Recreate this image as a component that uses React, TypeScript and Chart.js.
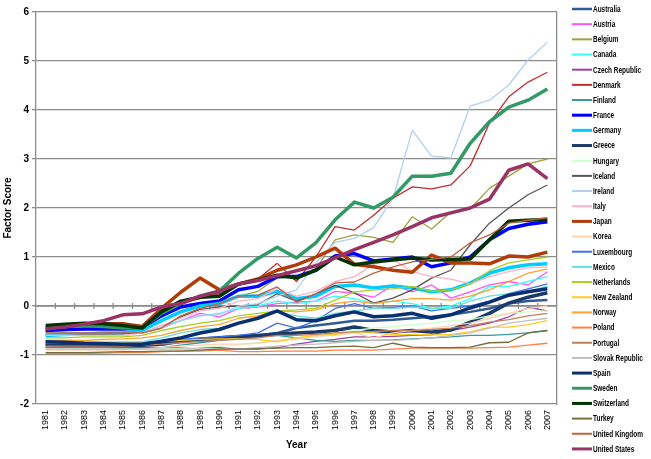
import React, { useEffect, useRef } from "react";
import { Chart, registerables } from "chart.js";
Chart.register(...registerables);

const categories = ["1981","1982","1983","1984","1985","1986","1987","1988","1989","1990","1991","1992","1993","1994","1995","1996","1997","1998","1999","2000","2001","2002","2003","2004","2005","2006","2007"];
const yTickValues = [-2, -1, 0, 1, 2, 3, 4, 5, 6];

const australia = [-0.80,-0.80,-0.80,-0.80,-0.80,-0.78,-0.75,-0.72,-0.70,-0.68,-0.65,-0.60,-0.55,-0.45,-0.40,-0.35,-0.30,-0.30,-0.28,-0.25,-0.22,-0.18,-0.12,-0.05,0.05,0.10,0.12];
const austria = [-0.55,-0.55,-0.55,-0.55,-0.55,-0.55,-0.45,-0.30,-0.15,-0.22,-0.05,-0.02,0.05,0.08,0.10,0.30,0.26,0.18,0.43,0.29,0.43,0.16,0.29,0.43,0.50,0.43,0.70];
const belgium = [-0.60,-0.58,-0.56,-0.55,-0.55,-0.50,-0.30,-0.10,0.00,0.05,0.20,0.30,0.57,0.59,0.75,1.35,1.45,1.40,1.30,1.82,1.57,1.92,1.98,2.40,2.65,2.90,3.00];
const canada = [-0.55,-0.55,-0.55,-0.56,-0.57,-0.55,-0.40,-0.30,-0.20,-0.15,-0.05,0.00,0.10,0.05,0.10,0.20,0.15,0.05,0.10,0.05,-0.05,0.00,0.15,0.40,0.40,0.50,0.60];
const czechRepublic = [-0.85,-0.85,-0.85,-0.85,-0.85,-0.85,-0.85,-0.85,-0.85,-0.85,-0.88,-0.88,-0.85,-0.78,-0.72,-0.68,-0.63,-0.63,-0.62,-0.60,-0.59,-0.50,-0.43,-0.35,-0.22,-0.03,-0.10];
const denmark = [-0.50,-0.50,-0.48,-0.45,-0.45,-0.42,-0.20,0.05,0.15,0.25,0.45,0.55,0.87,0.50,1.00,1.62,1.55,1.85,2.20,2.43,2.39,2.47,2.86,3.73,4.27,4.57,4.77];
const finland = [-0.85,-0.85,-0.85,-0.85,-0.87,-0.87,-0.85,-0.80,-0.75,-0.70,-0.65,-0.63,-0.60,-0.65,-0.70,-0.72,-0.70,-0.70,-0.69,-0.67,-0.65,-0.63,-0.60,-0.60,-0.58,-0.55,-0.50];
const france = [-0.50,-0.48,-0.47,-0.47,-0.47,-0.45,-0.20,-0.02,0.05,0.10,0.33,0.40,0.60,0.60,0.73,1.02,1.07,0.92,0.96,1.00,0.80,0.88,1.00,1.35,1.58,1.67,1.72];
const germany = [-0.60,-0.58,-0.57,-0.55,-0.55,-0.50,-0.30,-0.12,0.00,0.05,0.20,0.20,0.30,0.15,0.20,0.40,0.43,0.37,0.41,0.37,0.29,0.33,0.47,0.67,0.78,0.84,0.86];
const greece = [-0.78,-0.80,-0.80,-0.80,-0.80,-0.80,-0.78,-0.72,-0.68,-0.65,-0.62,-0.60,-0.57,-0.55,-0.53,-0.50,-0.43,-0.50,-0.53,-0.50,-0.53,-0.49,-0.33,-0.15,0.06,0.18,0.27];
const hungary = [-0.88,-0.88,-0.88,-0.88,-0.88,-0.88,-0.88,-0.86,-0.84,-0.82,-0.80,-0.75,-0.70,-0.65,-0.60,-0.55,-0.50,-0.45,-0.42,-0.38,-0.35,-0.30,-0.28,-0.20,-0.15,-0.12,-0.10];
const iceland = [-0.60,-0.60,-0.58,-0.58,-0.57,-0.55,-0.45,-0.22,-0.07,-0.02,0.00,0.03,0.25,0.10,0.25,0.42,0.27,0.06,0.16,0.33,0.57,0.73,1.25,1.69,2.00,2.27,2.47];
const ireland = [-0.60,-0.60,-0.60,-0.60,-0.60,-0.55,-0.45,-0.30,-0.20,-0.17,0.00,0.05,0.20,0.33,0.88,1.30,1.38,1.60,2.20,3.59,3.06,3.02,4.08,4.20,4.51,5.02,5.38];
const italy = [-0.60,-0.60,-0.60,-0.60,-0.60,-0.55,-0.40,-0.25,-0.10,-0.05,0.10,0.15,0.35,0.20,0.30,0.50,0.60,0.85,0.95,0.70,0.60,0.55,0.45,0.60,0.70,0.78,0.80];
const japan = [-0.45,-0.42,-0.38,-0.36,-0.36,-0.42,-0.05,0.28,0.57,0.33,0.45,0.55,0.73,0.84,1.00,1.18,0.85,0.80,0.73,0.69,1.04,0.88,0.88,0.86,1.02,1.00,1.10];
const korea = [-0.90,-0.90,-0.90,-0.90,-0.90,-0.88,-0.85,-0.82,-0.80,-0.78,-0.78,-0.76,-0.70,-0.68,-0.62,-0.60,-0.55,-0.65,-0.55,-0.50,-0.45,-0.40,-0.35,-0.25,-0.15,-0.05,0.00];
const luxembourg = [-0.75,-0.75,-0.75,-0.76,-0.76,-0.75,-0.72,-0.68,-0.65,-0.63,-0.60,-0.55,-0.35,-0.45,-0.30,-0.05,0.05,-0.05,-0.03,0.00,-0.10,-0.05,0.00,0.10,0.25,0.35,0.45];
const mexico = [-0.75,-0.75,-0.75,-0.75,-0.75,-0.73,-0.65,-0.55,-0.48,-0.45,-0.35,-0.25,-0.12,-0.20,-0.25,-0.15,-0.10,-0.05,-0.05,-0.02,-0.05,-0.05,0.10,0.20,0.25,0.30,0.40];
const netherlands = [-0.65,-0.65,-0.63,-0.63,-0.63,-0.60,-0.50,-0.42,-0.35,-0.30,-0.20,-0.15,-0.10,-0.08,-0.05,0.12,0.29,0.33,0.35,0.40,0.30,0.33,0.45,0.72,0.88,0.94,1.00];
const newZealand = [-0.70,-0.70,-0.72,-0.72,-0.73,-0.73,-0.72,-0.70,-0.68,-0.67,-0.67,-0.68,-0.73,-0.65,-0.60,-0.58,-0.53,-0.55,-0.59,-0.58,-0.59,-0.58,-0.53,-0.43,-0.43,-0.38,-0.30];
const norway = [-0.70,-0.70,-0.70,-0.68,-0.67,-0.65,-0.60,-0.50,-0.42,-0.38,-0.25,-0.20,-0.10,-0.12,-0.08,0.05,0.10,0.05,0.10,0.15,0.15,0.12,0.20,0.33,0.50,0.67,0.76];
const poland = [-0.97,-0.97,-0.97,-0.96,-0.95,-0.95,-0.93,-0.92,-0.92,-0.90,-0.93,-0.93,-0.92,-0.92,-0.92,-0.90,-0.90,-0.90,-0.88,-0.86,-0.86,-0.86,-0.86,-0.85,-0.84,-0.80,-0.76];
const portugal = [-0.82,-0.82,-0.82,-0.82,-0.82,-0.80,-0.78,-0.75,-0.72,-0.70,-0.68,-0.65,-0.60,-0.60,-0.58,-0.55,-0.53,-0.52,-0.50,-0.50,-0.48,-0.45,-0.40,-0.33,-0.28,-0.20,-0.15];
const slovakRepublic = [-0.88,-0.88,-0.88,-0.88,-0.88,-0.88,-0.88,-0.88,-0.88,-0.88,-0.88,-0.85,-0.82,-0.80,-0.78,-0.75,-0.72,-0.70,-0.70,-0.68,-0.65,-0.60,-0.55,-0.45,-0.35,-0.30,-0.25];
const spain = [-0.73,-0.74,-0.76,-0.77,-0.78,-0.78,-0.72,-0.65,-0.55,-0.48,-0.35,-0.25,-0.10,-0.28,-0.30,-0.20,-0.12,-0.22,-0.20,-0.15,-0.25,-0.18,-0.04,0.08,0.22,0.29,0.35];
const sweden = [-0.45,-0.42,-0.40,-0.42,-0.45,-0.45,-0.15,0.05,0.20,0.30,0.67,0.97,1.20,0.98,1.29,1.76,2.12,2.00,2.22,2.65,2.65,2.71,3.32,3.76,4.06,4.20,4.43];
const switzerland = [-0.40,-0.37,-0.35,-0.36,-0.40,-0.45,-0.12,0.10,0.18,0.20,0.45,0.53,0.63,0.57,0.73,1.00,0.84,0.90,0.94,0.98,0.94,0.95,0.96,1.35,1.73,1.75,1.77];
const turkey = [-0.95,-0.95,-0.95,-0.94,-0.93,-0.93,-0.92,-0.92,-0.90,-0.88,-0.88,-0.87,-0.86,-0.85,-0.85,-0.83,-0.82,-0.85,-0.76,-0.84,-0.85,-0.85,-0.84,-0.75,-0.74,-0.55,-0.50];
const unitedKingdom = [-0.55,-0.55,-0.55,-0.55,-0.55,-0.55,-0.45,-0.20,-0.05,0.05,0.20,0.22,0.39,0.08,0.25,0.47,0.49,0.67,0.80,0.90,0.95,1.00,1.29,1.45,1.69,1.75,1.80];
const unitedStates = [-0.47,-0.43,-0.37,-0.30,-0.18,-0.16,-0.02,0.05,0.20,0.30,0.45,0.52,0.62,0.72,0.82,0.98,1.15,1.30,1.45,1.62,1.80,1.90,2.00,2.18,2.77,2.90,2.60];

const seriesNames = ["Australia","Austria","Belgium","Canada","Czech Republic","Denmark","Finland","France","Germany","Greece","Hungary","Iceland","Ireland","Italy","Japan","Korea","Luxembourg","Mexico","Netherlands","New Zealand","Norway","Poland","Portugal","Slovak Republic","Spain","Sweden","Switzerland","Turkey","United Kingdom","United States"];
const seriesValues = [australia, austria, belgium, canada, czechRepublic, denmark, finland, france, germany, greece, hungary, iceland, ireland, italy, japan, korea, luxembourg, mexico, netherlands, newZealand, norway, poland, portugal, slovakRepublic, spain, sweden, switzerland, turkey, unitedKingdom, unitedStates];

const seriesColors = ["#2f5a96","#ff55ff","#a0a040","#33ffff","#a040a0","#c03030","#3a9a9a","#0000ff","#00ccff","#1a3a6a","#ccffcc","#555555","#b0d0f0","#ffb0c8","#b03c08","#ffd0b0","#4070f0","#66dddd","#a8d020","#ffcc22","#ffa030","#ff8040","#c08060","#c0c0c0","#0a3070","#339966","#003300","#707040","#c06040","#993366"];
const seriesWidths = [2.5,1.3,1.3,1.3,1.3,1.3,1.3,3.5,3.5,3.5,1.3,1.3,1.3,1.3,3.5,1.3,1.3,1.3,1.3,1.3,1.3,1.3,1.3,1.3,3.5,3.5,3.5,1.3,1.3,3.5];

const FONT = "Arial, 'Liberation Sans', sans-serif";
const GRID = "#8c8c8c";
const LEGEND_GAP = 15;
const LEGEND_TOP = 9;
const LEGEND_STEP = 15.17;
const LEGEND_LINE = 20;

const zeroAxisPlugin = {
  id: "zeroAxis",
  beforeDatasetsDraw(chart: any) {
    const { ctx, chartArea, scales } = chart;
    const x = scales.x;
    const y = scales.y;
    const y0 = y.getPixelForValue(0);
    const step = x.getPixelForValue(1) - x.getPixelForValue(0);
    ctx.save();
    ctx.strokeStyle = GRID;
    ctx.lineWidth = 1.3;
    ctx.beginPath();
    ctx.moveTo(chartArea.left, y0);
    ctx.lineTo(chartArea.right, y0);
    for (let i = 1; i < categories.length; i++) {
      const px = x.getPixelForValue(i) - step / 2;
      ctx.moveTo(px, y0 - 3);
      ctx.lineTo(px, y0 + 3);
    }
    ctx.stroke();
    ctx.restore();
  },
};

const sideLegendPlugin = {
  id: "sideLegend",
  afterDraw(chart: any) {
    const { ctx, chartArea } = chart;
    const x0 = chartArea.right + LEGEND_GAP;
    ctx.save();
    chart.data.datasets.forEach((ds: any, i: number) => {
      const yy = LEGEND_TOP + i * LEGEND_STEP;
      ctx.strokeStyle = ds.borderColor;
      ctx.lineWidth = Math.min(3, Math.max(2, ds.borderWidth));
      ctx.lineCap = "butt";
      ctx.beginPath();
      ctx.moveTo(x0, yy);
      ctx.lineTo(x0 + LEGEND_LINE, yy);
      ctx.stroke();
      ctx.save();
      ctx.translate(x0 + LEGEND_LINE + 1, yy + 0.5);
      ctx.scale(0.76, 1);
      ctx.font = `bold 8.5px ${FONT}`;
      ctx.fillStyle = "#000";
      ctx.textBaseline = "middle";
      ctx.textAlign = "left";
      ctx.fillText(ds.label, 0, 0);
      ctx.restore();
    });
    ctx.restore();
  },
};

export default function App() {
  const ref = useRef<HTMLCanvasElement>(null);
  useEffect(() => {
    const chart = new Chart(ref.current as HTMLCanvasElement, {
      type: "line",
      data: {
        labels: categories,
        datasets: seriesNames.map((name, i) => ({
          label: name,
          data: seriesValues[i],
          borderColor: seriesColors[i],
          backgroundColor: seriesColors[i],
          borderWidth: seriesWidths[i],
          pointRadius: 0,
          tension: 0,
          fill: false,
          yAxisID: "y",
          order: seriesNames.length - 1 - i,
          borderJoinStyle: "round" as const,
        })),
      },
      options: {
        animation: false,
        responsive: true,
        maintainAspectRatio: false,
        layout: { padding: 0 },
        plugins: {
          tooltip: { enabled: false },
          legend: { display: false },
        },
        scales: {
          x: {
            type: "category",
            offset: true,
            grid: { display: false, drawTicks: false },
            border: { display: false },
            ticks: {
              minRotation: 90,
              maxRotation: 90,
              autoSkip: false,
              padding: 6,
              color: "#000",
              font: { family: FONT, size: 9 },
            },
            title: {
              display: true,
              text: "Year",
              color: "#000",
              font: { family: FONT, size: 10, weight: "bold" },
              padding: { top: 0, bottom: 8 },
            },
            afterFit: (s: any) => {
              s.height = 55;
            },
          },
          y: {
            type: "linear",
            position: "left",
            min: -2,
            max: 6,
            afterBuildTicks: (s: any) => {
              s.ticks = yTickValues.map((v) => ({ value: v }));
            },
            ticks: {
              stepSize: 1,
              color: "#000",
              padding: 3,
              font: { family: FONT, size: 10, weight: "bold" },
            },
            grid: { color: GRID, lineWidth: 1.3, tickLength: 4 },
            border: { color: GRID, width: 1.3 },
            title: {
              display: true,
              text: "Factor Score",
              color: "#000",
              font: { family: FONT, size: 10, weight: "bold" },
              padding: { top: 2, bottom: 2 },
            },
            afterFit: (s: any) => {
              s.width = 36;
              s.paddingTop = 12;
              s.paddingBottom = 0;
            },
          },
          y2: {
            type: "linear",
            position: "right",
            min: -2,
            max: 6,
            grid: { display: false, drawTicks: false },
            ticks: { display: false },
            border: { display: true, color: GRID, width: 1.3 },
            afterFit: (s: any) => {
              s.width = 94;
            },
          },
        },
      } as any,
      plugins: [zeroAxisPlugin, sideLegendPlugin],
    });
    return () => chart.destroy();
  }, []);
  return (
    <div style={{ position: "absolute", left: 0, top: 0, width: 651, height: 459 }}>
      <canvas ref={ref} />
    </div>
  );
}
